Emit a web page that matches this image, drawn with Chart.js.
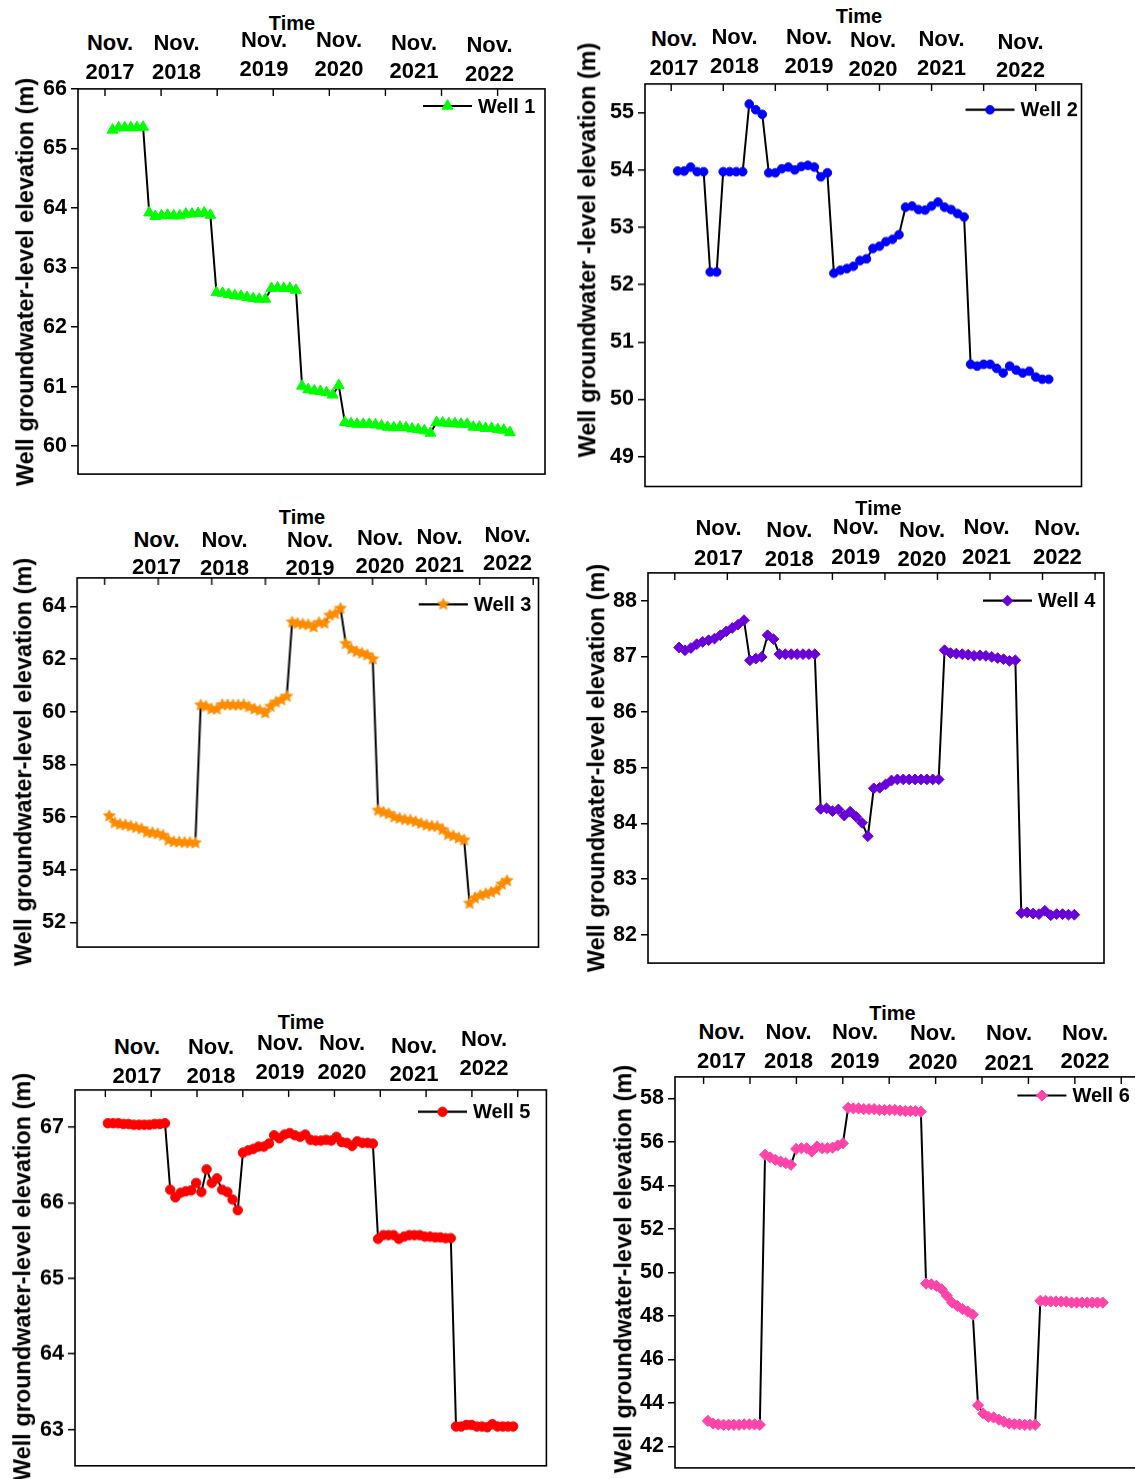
<!DOCTYPE html>
<html>
<head>
<meta charset="utf-8">
<title>Well groundwater-level elevation</title>
<script src="https://cdn.jsdelivr.net/npm/chart.js@4.4.1/dist/chart.umd.min.js"></script>
<style>
  html, body { margin: 0; padding: 0; background: #fff; overflow: hidden; }
  #fig { position: relative; width: 1135px; height: 1479px; overflow: hidden; background: #fff;
         font-family: "Liberation Sans", Arial, sans-serif; font-weight: bold; color: #000; }
  .panel { position: absolute; }
  .panel canvas { display: block; }
  .lbl { position: absolute; transform: translate(-50%, -50%); white-space: nowrap; font-size: 22px; line-height: 1; }
  .time { position: absolute; transform: translate(-50%, -50%); white-space: nowrap; font-size: 20px; line-height: 1; }
  .ytitle { position: absolute; transform: translate(-50%, -50%) rotate(-90deg); white-space: nowrap; font-size: 23.5px; line-height: 1; }
</style>
</head>
<body>
<div id="fig"></div>
<script>
// ---- monthly groundwater-level elevations (m) ----
const well1 = [
  65.31, 65.35, 65.35, 65.35, 65.35, 65.36,
  63.92, 63.86, 63.87, 63.88, 63.87, 63.87, 63.90, 63.90, 63.91, 63.92, 63.88,
  62.58, 62.57, 62.55, 62.53, 62.52, 62.50, 62.48, 62.47, 62.47,
  62.65, 62.66, 62.65, 62.65, 62.62,
  61.01, 60.95, 60.93, 60.92, 60.90, 60.86, 61.02,
  60.40, 60.38, 60.37, 60.37, 60.37, 60.36, 60.34, 60.32, 60.31, 60.32, 60.31, 60.29, 60.28, 60.26, 60.22,
  60.40, 60.39, 60.38, 60.38, 60.37, 60.37, 60.32, 60.32, 60.30, 60.30, 60.28, 60.27, 60.23
];
const well2 = [
  53.98, 53.98, 54.05, 53.97, 53.97,
  52.22, 52.22,
  53.97, 53.97, 53.97, 53.97,
  55.15, 55.05, 54.97,
  53.95, 53.95, 54.02, 54.05, 54.00, 54.06, 54.08, 54.05, 53.88, 53.95,
  52.20, 52.25, 52.28, 52.32, 52.42, 52.45, 52.63, 52.67, 52.75, 52.79, 52.87,
  53.35, 53.37, 53.31, 53.30, 53.37, 53.44, 53.35, 53.31, 53.24, 53.18,
  50.61, 50.58, 50.61, 50.61, 50.54, 50.46, 50.58, 50.51, 50.46, 50.49, 50.39, 50.35, 50.35
];
const well3 = [
  56.04, 55.78, 55.72, 55.70, 55.65, 55.60, 55.55, 55.42, 55.40, 55.36, 55.30, 55.12, 55.06, 55.05, 55.03, 55.03, 55.02,
  60.25, 60.20, 60.10, 60.10, 60.26, 60.26, 60.25, 60.25, 60.26, 60.18, 60.10, 60.05, 59.95, 60.20, 60.36, 60.45, 60.58,
  63.40, 63.35, 63.32, 63.30, 63.22, 63.38, 63.36, 63.66, 63.72, 63.92,
  62.58, 62.38, 62.28, 62.22, 62.15, 62.00,
  56.25, 56.18, 56.12, 56.00, 55.95, 55.90, 55.88, 55.82, 55.75, 55.69, 55.65, 55.64, 55.52, 55.33, 55.28, 55.20, 55.12,
  52.72, 52.92, 53.02, 53.08, 53.14, 53.22, 53.45, 53.58
];
const well4 = [
  87.16, 87.11, 87.15, 87.22, 87.26, 87.29, 87.32, 87.38, 87.45, 87.51, 87.57, 87.65,
  86.93, 86.96, 86.99,
  87.38, 87.31,
  87.04, 87.04, 87.04, 87.04, 87.04, 87.04, 87.04,
  84.26, 84.27, 84.22, 84.25, 84.14, 84.21, 84.12, 84.01,
  83.77,
  84.63, 84.64, 84.70, 84.77, 84.79, 84.79, 84.79, 84.79, 84.79, 84.79, 84.79, 84.79,
  87.11, 87.06, 87.05, 87.04, 87.03, 87.01, 87.02, 87.01, 86.99, 86.97, 86.95, 86.92, 86.93,
  82.39, 82.40, 82.38, 82.37, 82.43, 82.35, 82.37, 82.37, 82.36, 82.36
];
const well5 = [
  67.05, 67.05, 67.05, 67.04, 67.04, 67.03, 67.03, 67.03, 67.03, 67.04, 67.04, 67.05,
  66.17, 66.07, 66.13, 66.15, 66.16, 66.26, 66.14, 66.44, 66.26, 66.32, 66.17, 66.14, 66.04, 65.90,
  66.66, 66.69, 66.71, 66.74, 66.74, 66.78, 66.89, 66.85, 66.90, 66.92, 66.89, 66.87, 66.90, 66.83, 66.82, 66.82,
  66.83, 66.82, 66.87, 66.80, 66.79, 66.75, 66.81, 66.79, 66.79, 66.78,
  65.52, 65.57, 65.57, 65.57, 65.52, 65.55, 65.57, 65.57, 65.57, 65.55, 65.55, 65.54, 65.54, 65.53, 65.53,
  63.04, 63.04, 63.06, 63.06, 63.04, 63.04, 63.03, 63.07, 63.04, 63.04, 63.04, 63.04
];
const well6 = [
  43.18, 43.06, 43.02, 43.00, 43.00, 43.00, 43.00, 43.02, 43.02, 43.02, 43.00,
  55.41, 55.29, 55.18, 55.10, 55.03, 54.95,
  55.68, 55.71, 55.71, 55.56, 55.79, 55.71, 55.71, 55.74, 55.84, 55.94,
  57.57, 57.54, 57.54, 57.51, 57.51, 57.51, 57.47, 57.47, 57.47, 57.47, 57.44, 57.42, 57.42, 57.42, 57.39,
  49.49, 49.46, 49.39, 49.23, 48.93, 48.62, 48.47, 48.32, 48.21, 48.06,
  43.90, 43.52, 43.37, 43.34, 43.24, 43.14, 43.06, 43.03, 43.02, 43.00, 43.00, 43.00,
  48.70, 48.70, 48.67, 48.67, 48.66, 48.66, 48.62, 48.62, 48.62, 48.62, 48.62, 48.62, 48.62
];

// ---- axis tick labels ----
const ticks1 = [60, 61, 62, 63, 64, 65, 66];
const ticks2 = [49, 50, 51, 52, 53, 54, 55];
const ticks3 = [52, 54, 56, 58, 60, 62, 64];
const ticks4 = [82, 83, 84, 85, 86, 87, 88];
const ticks5 = [63, 64, 65, 66, 67];
const ticks6 = [42, 44, 46, 48, 50, 52, 54, 56, 58];
const monthLabel = 'Nov.';
const yearLabels = ['2017', '2018', '2019', '2020', '2021', '2022'];
const wellNames = ['Well 1', 'Well 2', 'Well 3', 'Well 4', 'Well 5', 'Well 6'];
const xTitle = 'Time';
const yTitles = [
  'Well groundwater-level elevation (m)',
  'Well groundwater -level elevation (m)',
  'Well groundwater-level elevation (m)',
  'Well groundwater-level elevation (m)',
  'Well groundwater-level elevation (m)',
  'Well groundwater-level elevation (m)'
];

// ---- layout & style ----
Chart.defaults.font.family = '"Liberation Sans", Arial, sans-serif';
const PAD = 16;   // canvas margin around the frame
const AXW = 60;   // width reserved for the y axis

// filled five-point star marker
function starMarker(color, r) {
  const c = document.createElement('canvas');
  const s = Math.ceil(r * 2 + 2);
  c.width = s; c.height = s;
  const g = c.getContext('2d');
  g.fillStyle = color;
  g.beginPath();
  for (let k = 0; k < 10; k++) {
    const rad = k % 2 === 0 ? r : r * 0.47;
    const a = -Math.PI / 2 + k * Math.PI / 5;
    const px = s / 2 + rad * Math.cos(a), py = s / 2 + rad * Math.sin(a);
    if (k === 0) g.moveTo(px, py); else g.lineTo(px, py);
  }
  g.closePath();
  g.fill();
  return c;
}

const layouts = [
  { values: well1, yTicks: ticks1, box: { l: 78, r: 545, t: 88, b: 475 }, yMin: 59.53, yMax: 66,
    firstFrac: 0.0739, lastFrac: 0.925, tick0: 0.0578, tickStep: 0.1201,
    color: '#00ff00', style: 'triangle', radius: 6.3,
    legend: { x: 423, y: 106 }, time: [292, 23], ytitle: [26, 282],
    labels: [[110, 42.5, 71.5], [176.5, 42.5, 71.5], [264, 40, 69], [339, 40, 69], [414, 42.5, 71], [489.5, 45, 73.5]] },
  { values: well2, yTicks: ticks2, box: { l: 644.5, r: 1081, t: 83.3, b: 486.7 }, yMin: 48.48, yMax: 55.5,
    firstFrac: 0.0747, lastFrac: 0.925, tick0: 0.060, tickStep: 0.1193,
    color: '#0000ff', style: 'circle', radius: 4.3,
    legend: { x: 965, y: 110 }, time: [859, 16], ytitle: [588, 250],
    labels: [[674, 39.3, 68.3], [734.5, 36.7, 66], [809, 37.3, 66], [873, 40, 69], [941.5, 39.3, 68.3], [1020.5, 41.5, 70]] },
  { values: well3, yTicks: ticks3, box: { l: 77, r: 537.5, t: 576.7, b: 947.7 }, yMin: 51.06, yMax: 65.08,
    firstFrac: 0.0698, lastFrac: 0.932, tick0: 0.0597, tickStep: 0.1161,
    color: '#ff8c00', style: 'star', radius: 7,
    legend: { x: 418, y: 604 }, time: [302, 517], ytitle: [24, 762],
    labels: [[156.5, 539.5, 567], [224.5, 540, 568], [310, 540, 567.5], [380, 537.5, 566], [439.5, 537, 565], [507.5, 535, 563.3]] },
  { values: well4, yTicks: ticks4, box: { l: 648, r: 1104, t: 572.3, b: 964.3 }, yMin: 81.49, yMax: 88.5,
    firstFrac: 0.0682, lastFrac: 0.935, tick0: 0.0588, tickStep: 0.1152,
    color: '#6a00d8', style: 'rectRot', radius: 5.4,
    legend: { x: 983, y: 601 }, time: [878.5, 507.5], ytitle: [597, 768],
    labels: [[718.5, 528.3, 558], [789.3, 530, 559], [855.8, 527, 556.5], [922, 530, 559], [986.5, 527, 556.5], [1057.4, 528, 556.5]] },
  { values: well5, yTicks: ticks5, box: { l: 75, r: 546.4, t: 1089.3, b: 1466 }, yMin: 62.52, yMax: 67.49,
    firstFrac: 0.0697, lastFrac: 0.9295, tick0: 0.0644, tickStep: 0.0972,
    color: '#ff0000', style: 'circle', radius: 4.7,
    legend: { x: 418, y: 1112 }, time: [301, 1021.5], ytitle: [23, 1277],
    labels: [[137, 1046.5, 1076], [211, 1046.5, 1076], [280, 1043.3, 1072], [342, 1043.3, 1072], [414, 1046, 1074], [484, 1039.3, 1068.3]] },
  { values: well6, yTicks: ticks6, box: { l: 674.6, r: 1141, t: 1075.5, b: 1468.3 }, yMin: 41.02, yMax: 58.99,
    firstFrac: 0.0705, lastFrac: 0.917, tick0: 0.0613, tickStep: 0.0995,
    color: '#ff44aa', style: 'rectRot', radius: 5.6,
    legend: { x: 1017, y: 1095 }, time: [892.5, 1012.5], ytitle: [624, 1269],
    labels: [[721.5, 1031.5, 1060.5], [788.5, 1031.5, 1060.5], [855, 1031.5, 1060.5], [933, 1032.5, 1061.5], [1009, 1033, 1063], [1085, 1032.5, 1060.8]] }
];

// frame, inward top ticks and in-plot legend
const framePlugin = {
  id: 'frame',
  afterDraw(chart, args, opts) {
    const { ctx, chartArea: a } = chart;
    const xs = chart.scales.x;
    ctx.save();
    ctx.strokeStyle = '#000';
    ctx.lineWidth = 1.6;
    ctx.strokeRect(a.left, a.top, a.right - a.left, a.bottom - a.top);
    // short ticks hanging from the top edge
    ctx.lineWidth = 1.4;
    const span = xs.max - xs.min;
    for (let f = opts.tick0; f < 1; f += opts.tickStep) {
      const px = xs.getPixelForValue(xs.min + f * span);
      ctx.beginPath();
      ctx.moveTo(px, a.top);
      ctx.lineTo(px, a.top + 7);
      ctx.stroke();
    }
    // legend entry
    const ds = chart.data.datasets[0];
    const lx = opts.legend.x - opts.origin.x, ly = opts.legend.y - opts.origin.y;
    ctx.lineWidth = 2.2;
    ctx.beginPath();
    ctx.moveTo(lx, ly);
    ctx.lineTo(lx + 49, ly);
    ctx.stroke();
    ctx.fillStyle = ds.pointBackgroundColor;
    ctx.strokeStyle = ds.pointBorderColor;
    ctx.lineWidth = 1;
    Chart.helpers.drawPoint(ctx, { pointStyle: ds.pointStyle, radius: ds.pointRadius, rotation: 0, borderWidth: 1 }, lx + 24.5, ly);
    ctx.fillStyle = '#000';
    ctx.font = 'bold 20px "Liberation Sans", Arial, sans-serif';
    ctx.textBaseline = 'middle';
    ctx.textAlign = 'left';
    ctx.fillText(ds.label, lx + 55, ly + 1);
    ctx.restore();
  }
};

const fig = document.getElementById('fig');

function addText(cls, text, x, y) {
  const d = document.createElement('div');
  d.className = cls;
  d.textContent = text;
  d.style.left = x + 'px';
  d.style.top = y + 'px';
  fig.appendChild(d);
}

layouts.forEach((p, i) => {
  const cl = p.box.l - AXW, ct = p.box.t - PAD;
  const cw = p.box.r - p.box.l + AXW + PAD, ch = p.box.b - p.box.t + 2 * PAD;
  const wrap = document.createElement('div');
  wrap.className = 'panel';
  wrap.style.left = cl + 'px';
  wrap.style.top = ct + 'px';
  wrap.style.width = cw + 'px';
  wrap.style.height = ch + 'px';
  const cv = document.createElement('canvas');
  wrap.appendChild(cv);
  fig.appendChild(wrap);

  const n = p.values.length;
  const span = (n - 1) / (p.lastFrac - p.firstFrac);
  const xMin = -p.firstFrac * span, xMax = xMin + span;
  const marker = p.style === 'star' ? starMarker(p.color, p.radius) : p.style;

  new Chart(cv, {
    type: 'line',
    data: {
      datasets: [{
        label: wellNames[i],
        data: p.values.map((v, k) => ({ x: k, y: v })),
        borderColor: '#000',
        borderWidth: 2,
        tension: 0,
        fill: false,
        pointStyle: marker,
        pointRadius: p.radius,
        pointBackgroundColor: p.color,
        pointBorderColor: p.color,
        pointBorderWidth: 1,
        clip: false
      }]
    },
    options: {
      responsive: true,
      maintainAspectRatio: false,
      animation: false,
      events: [],
      layout: { padding: { top: PAD, right: PAD, bottom: PAD, left: 0 } },
      plugins: {
        legend: { display: false },
        tooltip: { enabled: false },
        frame: { tick0: p.tick0, tickStep: p.tickStep, legend: p.legend, origin: { x: cl, y: ct } }
      },
      scales: {
        x: { type: 'linear', display: false, min: xMin, max: xMax },
        y: {
          type: 'linear',
          min: p.yMin,
          max: p.yMax,
          afterBuildTicks: s => { s.ticks = p.yTicks.map(v => ({ value: v })); },
          afterFit: s => { s.width = AXW; },
          border: { display: false },
          grid: { drawOnChartArea: false, drawTicks: true, tickLength: 7, color: '#000', lineWidth: 1.5 },
          ticks: { color: '#000', padding: 4, font: { size: 21.5, weight: 'bold' } }
        }
      }
    },
    plugins: [framePlugin]
  });

  // top time labels
  addText('time', xTitle, p.time[0], p.time[1]);
  p.labels.forEach((pos, k) => {
    addText('lbl', monthLabel, pos[0], pos[1]);
    addText('lbl', yearLabels[k], pos[0], pos[2]);
  });
  addText('ytitle', yTitles[i], p.ytitle[0], p.ytitle[1]);
});
</script>
</body>
</html>
